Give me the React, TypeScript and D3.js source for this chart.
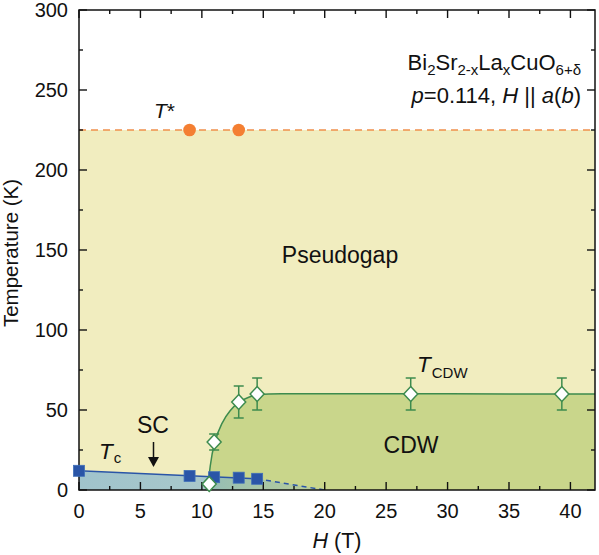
import React from "react";
import * as d3 from "d3";

const tStarH = [9, 13];
const tStarT = [225, 225];
const tStarLevel = 225;

const tcH = [0, 9, 11, 13, 14.5];
const tcT = [12, 8.8, 8, 7.7, 7];
const tcExtH = [14.5, 20];
const tcExtT = [7, 0];

const cdwH = [10.6, 11, 13, 14.5, 27, 39.3];
const cdwT = [3.8, 30, 55, 60, 60, 60];
const cdwErr = [0, 5, 10, 10, 10, 10];

const cdwCurveH = [10.5, 10.65, 11, 11.6, 12.3, 13, 13.8, 14.7, 16, 20, 42];
const cdwCurveT = [0, 15, 30, 42, 50, 55, 58.3, 59.7, 60.2, 60.2, 60];

const xTicks = [0, 5, 10, 15, 20, 25, 30, 35, 40];
const yTicks = [0, 50, 100, 150, 200, 250, 300];

const W = 599, H = 555;
const L = 79, R = 595, T = 10, B = 490;

export default function App() {
  const x = d3.scaleLinear().domain([0, 42]).range([L, R]);
  const y = d3.scaleLinear().domain([0, 300]).range([B, T]);

  const cdwPts: [number, number][] = cdwCurveH.map((h, i) => [h, cdwCurveT[i]]);
  const line = d3.line<[number, number]>().x(d => x(d[0])).y(d => y(d[1]));
  const cdwLine = d3.line<[number, number]>().x(d => x(d[0])).y(d => y(d[1])).curve(d3.curveBasis);
  const cdwArea = d3.area<[number, number]>().x(d => x(d[0])).y0(y(0)).y1(d => y(d[1])).curve(d3.curveBasis);

  const tcPts: [number, number][] = [[tcH[0], tcT[0]], [tcH[tcH.length - 1], tcT[tcT.length - 1]]];
  const tcExt: [number, number][] = tcExtH.map((h, i) => [h, tcExtT[i]]);
  const scPoly: [number, number][] = [[0, 0], ...tcPts, tcExt[1], [20, 0]];
  const scPath = line(scPoly) + "Z";

  const minorX = d3.range(0, 42.01, 2.5);
  const minorY = d3.range(0, 300.01, 25);

  const font = "'Liberation Sans', Arial, Helvetica, sans-serif";
  const green = "#3d8b4e";
  const blue = "#2a55a7";
  const orange = "#f47f32";

  return (
    <svg width={W} height={H} style={{ display: "block", position: "absolute", left: 0, top: 0 }} fontFamily={font}>
      <defs>
        <linearGradient id="scgrad" gradientUnits="userSpaceOnUse" x1={x(0)} x2={x(20)} y1={0} y2={0}>
          <stop offset="0" stopColor="rgb(110,170,212)" stopOpacity={0.62} />
          <stop offset="0.55" stopColor="rgb(110,170,212)" stopOpacity={0.55} />
          <stop offset="1" stopColor="rgb(110,170,212)" stopOpacity={0.15} />
        </linearGradient>
        <clipPath id="plotclip">
          <rect x={L} y={T} width={R - L} height={B - T} />
        </clipPath>
      </defs>
      <g clipPath="url(#plotclip)">
        <rect x={x(0)} y={y(tStarLevel)} width={x(42) - x(0)} height={y(0) - y(tStarLevel)} fill="#f1edbf" />
        <path d={cdwArea(cdwPts) || ""} fill="#c9d68b" />
        <path d={scPath} fill="url(#scgrad)" />
        <line x1={x(0)} x2={x(42)} y1={y(tStarLevel)} y2={y(tStarLevel)} stroke="#f0904c" strokeWidth={1.6} strokeDasharray="7,5" />
        <path d={cdwLine(cdwPts) || ""} fill="none" stroke={green} strokeWidth={1.5} />
        <path d={line(tcPts) || ""} fill="none" stroke={blue} strokeWidth={1.5} />
        <path d={line(tcExt) || ""} fill="none" stroke={blue} strokeWidth={1.5} strokeDasharray="5,4" />
      </g>

      {minorX.map(v => {
        const major = Math.abs(v % 5) < 1e-6;
        const len = major ? 8 : 4;
        return (
          <g key={"xt" + v} stroke="#111" strokeWidth={1.4}>
            <line x1={x(v)} x2={x(v)} y1={B} y2={B - len} />
            <line x1={x(v)} x2={x(v)} y1={T} y2={T + len} />
          </g>
        );
      })}
      {minorY.map(v => {
        const major = Math.abs(v % 50) < 1e-6;
        const len = major ? 8 : 4;
        return (
          <g key={"yt" + v} stroke="#111" strokeWidth={1.4}>
            <line x1={L} x2={L + len} y1={y(v)} y2={y(v)} />
            <line x1={R} x2={R - len} y1={y(v)} y2={y(v)} />
          </g>
        );
      })}
      <rect x={L} y={T} width={R - L} height={B - T} fill="none" stroke="#111" strokeWidth={1.5} />

      {xTicks.map(v => (
        <text key={"xl" + v} x={x(v)} y={518} textAnchor="middle" fontSize={20} fill="#111">{v}</text>
      ))}
      {yTicks.map(v => (
        <text key={"yl" + v} x={68} y={y(v) + 7} textAnchor="end" fontSize={20} fill="#111">{v}</text>
      ))}
      <text x={(L + R) / 2} y={548} textAnchor="middle" fontSize={21.5} fill="#111">
        <tspan fontStyle="italic">H</tspan> (T)
      </text>
      <text transform={`translate(18,${(T + B) / 2 + 3}) rotate(-90)`} textAnchor="middle" fontSize={20.5} fill="#111">Temperature (K)</text>

      {cdwH.map((h, i) => cdwErr[i] > 0 ? (
        <g key={"eb" + i} stroke={green} strokeWidth={1.5}>
          <line x1={x(h)} x2={x(h)} y1={y(cdwT[i] - cdwErr[i])} y2={y(cdwT[i] + cdwErr[i])} />
          <line x1={x(h) - 5} x2={x(h) + 5} y1={y(cdwT[i] - cdwErr[i])} y2={y(cdwT[i] - cdwErr[i])} />
          <line x1={x(h) - 5} x2={x(h) + 5} y1={y(cdwT[i] + cdwErr[i])} y2={y(cdwT[i] + cdwErr[i])} />
        </g>
      ) : null)}

      {tStarH.map((h, i) => (
        <circle key={"ts" + i} cx={x(h)} cy={y(tStarT[i])} r={6.3} fill={orange} />
      ))}
      {tcH.map((h, i) => (
        <rect key={"tc" + i} x={x(h) - 5.5} y={y(tcT[i]) - 5.5} width={11} height={11} fill={blue} stroke="#3f6fb8" strokeWidth={0.8} />
      ))}
      {cdwH.map((h, i) => {
        const cx = x(h), cy = y(cdwT[i]);
        return <path key={"cd" + i} d={`M${cx},${cy - 7.5}L${cx + 7},${cy}L${cx},${cy + 7.5}L${cx - 7},${cy}Z`} fill="#fff" stroke={green} strokeWidth={1.5} />;
      })}

      <text x={154} y={118} fontSize={21} fill="#111"><tspan fontStyle="italic">T</tspan>*</text>
      <text x={340} y={263} textAnchor="middle" fontSize={23} fill="#111">Pseudogap</text>
      <text x={417} y={372} fontSize={22.5} fill="#111"><tspan fontStyle="italic">T</tspan><tspan fontSize={15} dy={6} dx={1}>CDW</tspan></text>
      <text x={411} y={453} textAnchor="middle" fontSize={23} fill="#111">CDW</text>
      <text x={153} y={433} textAnchor="middle" fontSize={23} fill="#111">SC</text>
      <line x1={153.5} x2={153.5} y1={442} y2={460} stroke="#111" strokeWidth={1.5} />
      <path d="M148,457 L159,457 L153.5,467 Z" fill="#111" />
      <text x={99} y={459} fontSize={22.5} fill="#111"><tspan fontStyle="italic">T</tspan><tspan fontSize={15} dy={4} dx={1}>c</tspan></text>

      <text x={581} y={70} textAnchor="end" fontSize={22} fill="#111">
        Bi<tspan fontSize={15} dy={5}>2</tspan><tspan dy={-5}>Sr</tspan><tspan fontSize={15} dy={5}>2-x</tspan><tspan dy={-5}>La</tspan><tspan fontSize={15} dy={5}>x</tspan><tspan dy={-5}>CuO</tspan><tspan fontSize={15} dy={5}>6+δ</tspan>
      </text>
      <text x={581} y={103} textAnchor="end" fontSize={22} fill="#111">
        <tspan fontStyle="italic">p</tspan>=0.114, <tspan fontStyle="italic">H</tspan> || <tspan fontStyle="italic">a</tspan>(<tspan fontStyle="italic">b</tspan>)
      </text>
    </svg>
  );
}
